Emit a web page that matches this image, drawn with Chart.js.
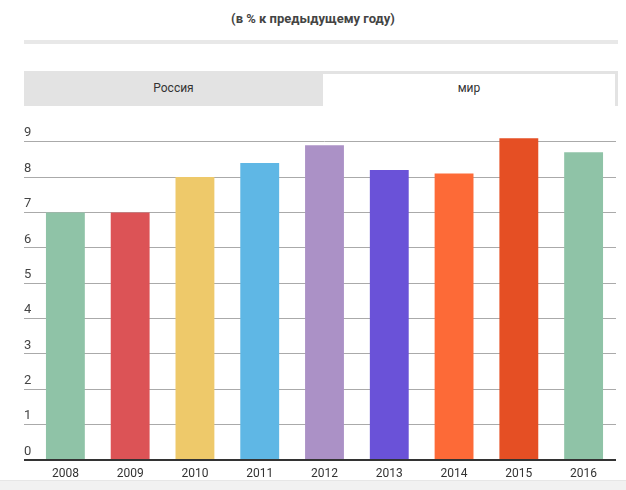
<!DOCTYPE html>
<html>
<head>
<meta charset="utf-8">
<script src="https://cdn.jsdelivr.net/npm/chart.js@4"></script>
<style>
  html, body { margin:0; padding:0; background:#fff; }
  body { width:626px; height:490px; position:relative; overflow:hidden; font-family:Roboto, sans-serif; }
  .title { position:absolute; top:11px; left:0; width:626px; text-align:center; font-size:13px; font-weight:bold; color:#444; }
  .rule { position:absolute; top:40px; left:24px; width:594px; height:4px; background:#e8e8e8; }
  .tabs { position:absolute; top:71px; left:24px; width:594px; height:35px; background:#e3e3e3; }
  .tab { position:absolute; top:0; height:35px; line-height:35px; text-align:center; font-size:12px; color:#333; }
  .tab.ru { left:0; width:299px; }
  .tab.world { left:299px; top:3px; width:292px; height:32px; line-height:29px; background:#fff; }
  .foot { position:absolute; top:480px; left:0; width:626px; height:10px; background:#f1f1f1; border-top:1px solid #e6e6e6; }
  #wrap { position:absolute; top:110px; left:0; width:626px; height:380px; }
</style>
</head>
<body>
<div class="title">(в % к предыдущему году)</div>
<div class="rule"></div>
<div class="tabs">
  <div class="tab ru">Россия</div>
  <div class="tab world">мир</div>
</div>
<div class="foot"></div>
<div id="wrap"><canvas id="chart"></canvas></div>
<script>
const years = ["2008","2009","2010","2011","2012","2013","2014","2015","2016"];
const growth = [7.0, 7.0, 8.0, 8.4, 8.9, 8.2, 8.1, 9.1, 8.7];
const barColors = ["#8fc3a7","#dc5356","#eec96a","#5fb7e5","#ab91c6","#6a52d8","#fd6a37","#e54f24","#8fc3a7"];
const yTicks = [0,1,2,3,4,5,6,7,8,9];

new Chart(document.getElementById("chart"), {
  type: "bar",
  data: {
    labels: years,
    datasets: [{
      data: growth,
      backgroundColor: barColors,
      barPercentage: 0.6,
      categoryPercentage: 1.0
    }]
  },
  options: {
    responsive: true,
    maintainAspectRatio: false,
    animation: false,
    layout: { padding: { left: 24, right: 10, top: 14, bottom: 1.5 } },
    plugins: { legend: { display: false }, tooltip: { enabled: false } },
    scales: {
      x: {
        grid: { display: false, drawTicks: false },
        border: { display: false },
        ticks: { color: "#333", font: { family: "Roboto", size: 12 }, padding: 7 }
      },
      y: {
        min: 0,
        max: 9.5,
        afterBuildTicks: s => { s.ticks = yTicks.map(v => ({ value: v })); },
        afterFit: s => { s.width = 9; },
        border: { display: false },
        grid: {
          tickLength: 9,
          color: c => c.tick && c.tick.value === 0 ? "#333" : "#aaa",
          lineWidth: c => c.tick && c.tick.value === 0 ? 2 : 1
        },
        ticks: {
          mirror: true,
          padding: -9,
          labelOffset: -8.5,
          color: "#444",
          font: { family: "Roboto", size: 13 }
        }
      }
    }
  }
});
</script>
</body>
</html>
